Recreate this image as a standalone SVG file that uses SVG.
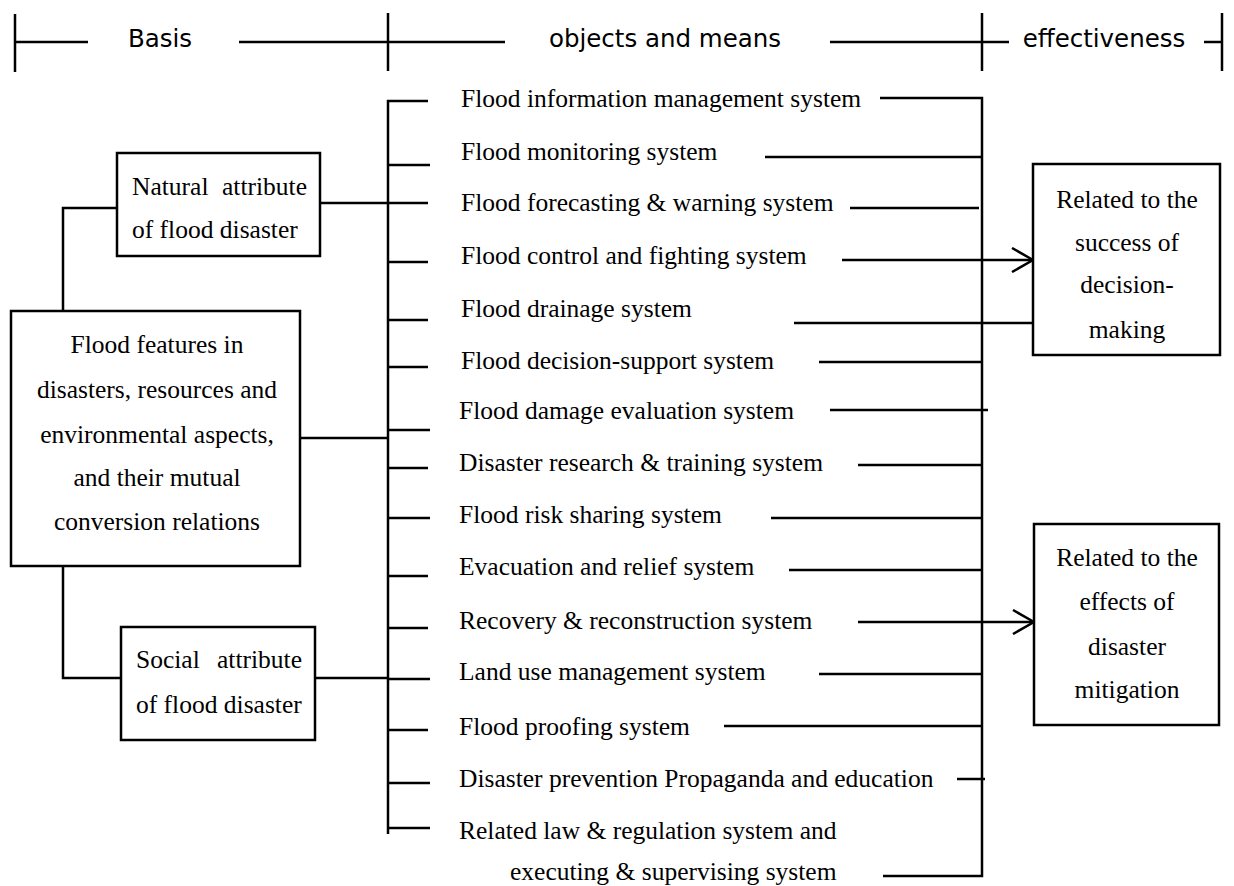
<svg xmlns="http://www.w3.org/2000/svg" width="1234" height="886" viewBox="0 0 1234 886">
<style>
.ln{stroke:#000;stroke-width:2.5;fill:none}
.bx{stroke:#000;stroke-width:2.5;fill:#fff}
.hd{font-family:"DejaVu Sans","Liberation Sans",sans-serif;font-size:24.5px;fill:#000}
.tx{font-family:"Liberation Serif","Times New Roman",serif;font-size:25.5px;fill:#000}
.c{text-anchor:middle}
.e{text-anchor:end}
</style>
<defs>
<marker id="arr" markerUnits="userSpaceOnUse" viewBox="0 0 24 26" refX="22" refY="13" markerWidth="24" markerHeight="26" orient="auto">
<path d="M1,1 L22,13 L1,25" fill="none" stroke="#000" stroke-width="2.5"/>
</marker>
</defs>
<rect width="1234" height="886" fill="#fff"/>

<g id="header">
<path class="ln" d="M15,14 V72 M15,42 H88 M239,42 H505 M388,13 V71 M830,42 H1009 M982,13 V71 M1204,42 H1222 M1222,13 V71"/>
<text class="hd c" x="160" y="47">Basis</text>
<text class="hd c" x="665" y="47">objects and means</text>
<text class="hd c" x="1104" y="47">effectiveness</text>
</g>

<g id="connectors">
<path class="ln" d="M63,313 V208 H117"/>
<path class="ln" d="M63,566 V678 H121"/>
<path class="ln" d="M320,203 H388"/>
<path class="ln" d="M300,438 H388"/>
<path class="ln" d="M315,678 H388"/>
<path class="ln" d="M428,101 H388 V834"/>
<path class="ln" d="M388,165 H430 M388,203 H428 M388,262 H428 M388,320 H428 M388,367 H428 M388,430 H430 M388,468 H428 M388,518 H430 M388,576 H428 M388,628 H428 M388,679 H430 M388,730 H428 M388,783 H430 M388,828 H430"/>
<path class="ln" d="M880,98 H982 V876 H883"/>
<path class="ln" d="M765,157 H982 M850,208 H979 M794,323 H1035 M819,362 H982 M830,410 H988 M858,465 H982 M771,518 H982 M789,570 H982 M819,674 H982 M724,726 H982 M957,779 H985"/>
<path class="ln" d="M842,260 H1033" marker-end="url(#arr)"/>
<path class="ln" d="M858,622 H1034" marker-end="url(#arr)"/>
</g>

<g id="natural">
<rect class="bx" x="117" y="153" width="203" height="103"/>
<text class="tx" x="132" y="195">Natural</text>
<text class="tx e" x="307" y="195">attribute</text>
<text class="tx" x="132" y="238">of flood disaster</text>
</g>

<g id="features">
<rect class="bx" x="11" y="311" width="289" height="255"/>
<text class="tx c" x="157" y="353">Flood features in</text>
<text class="tx c" x="157" y="398">disasters, resources and</text>
<text class="tx c" x="157" y="443">environmental aspects,</text>
<text class="tx c" x="157" y="486">and their mutual</text>
<text class="tx c" x="157" y="530">conversion relations</text>
</g>

<g id="social">
<rect class="bx" x="121" y="627" width="194" height="113"/>
<text class="tx" x="136" y="668">Social</text>
<text class="tx e" x="302" y="668">attribute</text>
<text class="tx" x="136" y="713">of flood disaster</text>
</g>

<g id="items">
<text class="tx" x="461" y="107">Flood information management system</text>
<text class="tx" x="461" y="160">Flood monitoring system</text>
<text class="tx" x="461" y="211">Flood forecasting &amp; warning system</text>
<text class="tx" x="461" y="264">Flood control and fighting system</text>
<text class="tx" x="461" y="317">Flood drainage system</text>
<text class="tx" x="461" y="369">Flood decision-support system</text>
<text class="tx" x="459" y="419">Flood damage evaluation system</text>
<text class="tx" x="459" y="471">Disaster research &amp; training system</text>
<text class="tx" x="459" y="523">Flood risk sharing system</text>
<text class="tx" x="459" y="575">Evacuation and relief system</text>
<text class="tx" x="459" y="629">Recovery &amp; reconstruction system</text>
<text class="tx" x="459" y="680">Land use management system</text>
<text class="tx" x="459" y="735">Flood proofing system</text>
<text class="tx" x="459" y="787">Disaster prevention Propaganda and education</text>
<text class="tx" x="459" y="839">Related law &amp; regulation system and</text>
<text class="tx" x="510" y="880">executing &amp; supervising system</text>
</g>

<g id="decision">
<rect class="bx" x="1033" y="164" width="187" height="191"/>
<text class="tx c" x="1127" y="208">Related to the</text>
<text class="tx c" x="1127" y="251">success of</text>
<text class="tx c" x="1127" y="293">decision-</text>
<text class="tx c" x="1127" y="338">making</text>
</g>

<g id="mitigation">
<rect class="bx" x="1034" y="524" width="185" height="201"/>
<text class="tx c" x="1127" y="566">Related to the</text>
<text class="tx c" x="1127" y="610">effects of</text>
<text class="tx c" x="1127" y="655">disaster</text>
<text class="tx c" x="1127" y="698">mitigation</text>
</g>
</svg>
